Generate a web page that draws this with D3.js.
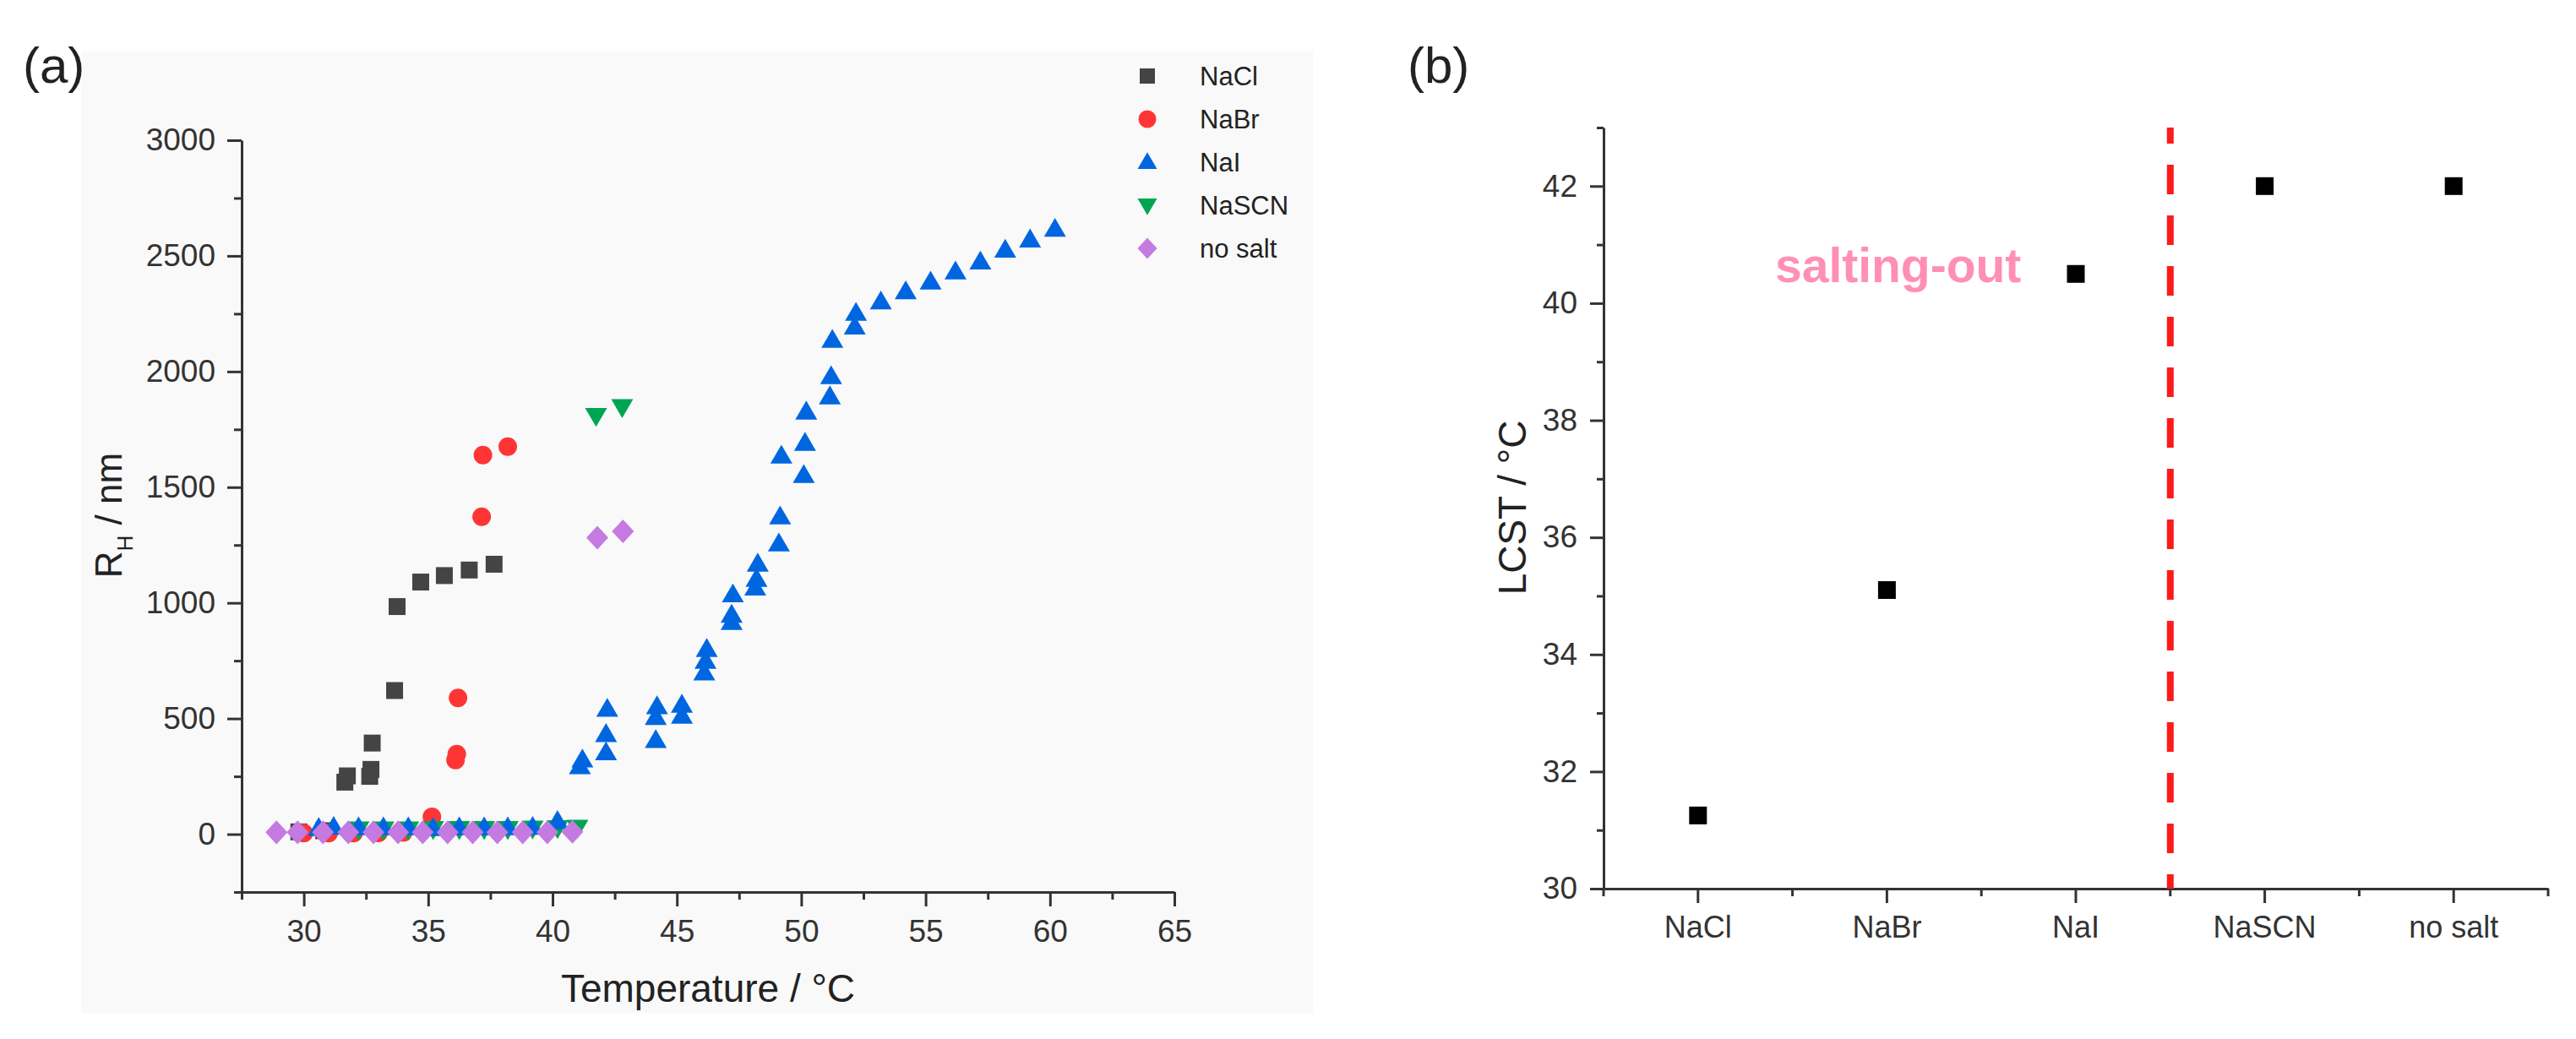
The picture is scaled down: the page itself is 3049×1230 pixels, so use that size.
<!DOCTYPE html>
<html>
<head>
<meta charset="utf-8">
<script src="https://cdn.jsdelivr.net/npm/d3@7"></script>
<style>
  body { margin: 0; background: #ffffff; }
</style>
</head>
<body>
<div id="chart"></div>
<script>

// ---- data, panel (a): hydrodynamic radius vs temperature ----
var salts = ["NaCl", "NaBr", "NaI", "NaSCN", "no salt"];
var saltColours = ["#444444", "#ff3535", "#0066e0", "#00a552", "#c47ae0"];

var naclPoints = [[29.8, 10], [30.8, 15], [31.65, 225], [31.75, 252], [32.65, 250],
	[32.7, 280], [32.75, 394], [33.65, 621], [33.75, 984], [34.7, 1090],
	[35.65, 1118], [36.65, 1142], [37.65, 1167]];

var nabrPoints = [[30.0, 5], [31.0, 5], [32.0, 5], [33.0, 6], [34.0, 8],
	[35.15, 75], [36.1, 321], [36.15, 346], [36.2, 589], [37.15, 1372],
	[37.2, 1639], [38.2, 1675]];

var naiPoints = [[30.6, 25], [31.2, 30], [32.2, 28], [33.2, 28], [34.2, 28],
	[35.2, 25], [36.25, 28], [37.25, 28], [38.2, 28], [39.2, 30], [40.2, 55],
	[41.1, 292], [41.2, 321], [42.15, 352], [42.15, 431], [42.2, 540],
	[44.15, 405], [44.15, 505], [44.2, 551], [45.2, 510], [45.2, 558],
	[46.1, 697], [46.15, 748], [46.2, 799], [47.2, 916], [47.2, 947],
	[47.25, 1035], [48.15, 1064], [48.2, 1102], [48.25, 1168], [49.1, 1255],
	[49.15, 1372], [49.2, 1635], [50.1, 1551], [50.15, 1690], [50.2, 1825],
	[51.15, 1891], [51.2, 1978], [51.25, 2135], [52.15, 2193], [52.2, 2252],
	[53.2, 2301], [54.2, 2345], [55.2, 2387], [56.2, 2431], [57.2, 2474],
	[58.2, 2525], [59.2, 2569], [60.2, 2615]];

var nascnPoints = [[32.2, 22], [33.2, 22], [34.2, 22], [35.2, 24], [36.25, 24],
	[37.25, 24], [38.2, 24], [39.2, 26], [40.2, 28], [41.0, 30],
	[41.75, 1810], [42.8, 1848]];

var noSaltPoints = [[28.9, 8], [29.75, 8], [30.77, 8], [31.79, 8], [32.8, 8],
	[33.79, 8], [34.78, 8], [35.78, 8], [36.79, 8], [37.78, 8], [38.8, 8],
	[39.79, 8], [40.8, 10], [41.8, 1282], [42.83, 1309]];

var tempTicks = [30, 35, 40, 45, 50, 55, 60, 65];
var tempMinorTicks = [27.5, 32.5, 37.5, 42.5, 47.5, 52.5, 57.5, 62.5];
var radiusTicks = [0, 500, 1000, 1500, 2000, 2500, 3000];
var radiusMinorTicks = [-250, 250, 750, 1250, 1750, 2250, 2750];

// ---- data, panel (b): LCST per salt ----
var lcstValues = [31.25, 35.1, 40.5, 42.0, 42.0];
var lcstTicks = [30, 32, 34, 36, 38, 40, 42];
var lcstMinorTicks = [31, 33, 35, 37, 39, 41, 43];


var FONT = "'Liberation Sans', Arial, Helvetica, sans-serif";
var AXIS = "#333333";

// marker shapes, size = width in px squared
var shapeSquare = { draw: function(ctx, s) { var r = Math.sqrt(s) / 2; ctx.rect(-r, -r, 2 * r, 2 * r); } };
var shapeCircle = { draw: function(ctx, s) { var r = Math.sqrt(s) / 2; ctx.moveTo(r, 0); ctx.arc(0, 0, r, 0, 2 * Math.PI); } };
var shapeTriUp = { draw: function(ctx, s) {
	var w = Math.sqrt(s), h = w * 0.86;
	ctx.moveTo(0, -h * 0.6); ctx.lineTo(w / 2, h * 0.4); ctx.lineTo(-w / 2, h * 0.4); ctx.closePath(); } };
var shapeTriDown = { draw: function(ctx, s) {
	var w = Math.sqrt(s), h = w * 0.86;
	ctx.moveTo(0, h * 0.6); ctx.lineTo(w / 2, -h * 0.4); ctx.lineTo(-w / 2, -h * 0.4); ctx.closePath(); } };
var shapeDiamond = { draw: function(ctx, s) {
	var w = Math.sqrt(s) / 2, h = w * 1.08;
	ctx.moveTo(0, -h); ctx.lineTo(w, 0); ctx.lineTo(0, h); ctx.lineTo(-w, 0); ctx.closePath(); } };

// order: legend order; draw: stacking order of the points
var series = [
	{ name: salts[0], points: naclPoints, shape: shapeSquare, size: 20, legendSize: 18, draw: 0 },
	{ name: salts[1], points: nabrPoints, shape: shapeCircle, size: 22, legendSize: 21, draw: 1 },
	{ name: salts[2], points: naiPoints, shape: shapeTriUp, size: 26, legendSize: 23, draw: 3 },
	{ name: salts[3], points: nascnPoints, shape: shapeTriDown, size: 26, legendSize: 23, draw: 2 },
	{ name: salts[4], points: noSaltPoints, shape: shapeDiamond, size: 26, legendSize: 23, draw: 4 }
];
series.forEach(function(s, i) { s.colour = saltColours[i]; });


function styleAxis(g, fontSize) {
	g.attr("font-family", FONT).attr("font-size", fontSize);
	g.select(".domain").attr("stroke", AXIS).attr("stroke-width", 3);
	g.selectAll(".tick line").attr("stroke", AXIS).attr("stroke-width", 3);
	g.selectAll(".tick text").attr("fill", "#333333");
}


var svg = d3.select("#chart").append("svg")
	.attr("width", 3049)
	.attr("height", 1230)
	.style("font-family", FONT);


// ================= panel (a) =================
svg.append("rect")
	.attr("x", 96).attr("y", 61)
	.attr("width", 1458).attr("height", 1138)
	.attr("fill", "#f9f9f9");

var xA = d3.scaleLinear().domain([27.5, 65]).range([286, 1390]);
var yA = d3.scaleLinear().domain([-250, 3000]).range([1056, 166]);

var gA = svg.append("g");

gA.append("g")
	.attr("transform", "translate(0,1056)")
	.call(d3.axisBottom(xA).tickValues(tempMinorTicks).tickSize(9).tickFormat(""))
	.call(function(g) { styleAxis(g, 37); g.select(".domain").remove(); });

gA.append("g")
	.attr("transform", "translate(0,1056)")
	.call(d3.axisBottom(xA).tickValues(tempTicks).tickSize(17).tickSizeOuter(0).tickPadding(16)
		.tickFormat(d3.format("d")))
	.call(function(g) { styleAxis(g, 37); });

gA.append("g")
	.attr("transform", "translate(286,0)")
	.call(d3.axisLeft(yA).tickValues(radiusMinorTicks).tickSize(9).tickFormat(""))
	.call(function(g) { styleAxis(g, 37); g.select(".domain").remove(); });

gA.append("g")
	.attr("transform", "translate(286,0)")
	.call(d3.axisLeft(yA).tickValues(radiusTicks).tickSize(17).tickSizeOuter(0).tickPadding(14)
		.tickFormat(d3.format("d")))
	.call(function(g) { styleAxis(g, 37); });

// points
series.slice().sort(function(a, b) { return a.draw - b.draw; }).forEach(function(s) {
	gA.append("g").selectAll("path")
		.data(s.points)
		.enter().append("path")
		.attr("transform", function(d) { return "translate(" + xA(d[0]) + "," + yA(d[1]) + ")"; })
		.attr("d", d3.symbol().type(s.shape).size(s.size * s.size))
		.attr("fill", s.colour);
});

// axis titles
gA.append("text")
	.attr("x", 838).attr("y", 1186)
	.attr("text-anchor", "middle")
	.attr("font-size", 46)
	.attr("fill", "#222222")
	.text("Temperature / °C");

var yTitle = gA.append("text")
	.attr("transform", "translate(144,610) rotate(-90)")
	.attr("text-anchor", "middle")
	.attr("font-size", 44)
	.attr("fill", "#222222");
yTitle.append("tspan").text("R");
yTitle.append("tspan").attr("font-size", 26).attr("dy", 13).text("H");
yTitle.append("tspan").attr("dy", -13).text(" / nm");

// legend
var legend = gA.append("g").selectAll("g")
	.data(series)
	.enter().append("g")
	.attr("transform", function(d, i) { return "translate(1358," + (90 + i * 51) + ")"; });

legend.append("path")
	.attr("d", function(d) { return d3.symbol().type(d.shape).size(d.legendSize * d.legendSize)(); })
	.attr("fill", function(d) { return d.colour; });

legend.append("text")
	.attr("x", 62).attr("y", 11)
	.attr("font-size", 31)
	.attr("fill", "#222222")
	.text(function(d) { return d.name; });

gA.append("text")
	.attr("x", 27).attr("y", 98)
	.attr("font-size", 60)
	.attr("fill", "#222222")
	.text("(a)");


// ================= panel (b) =================
var xB = d3.scaleBand().domain(salts).range([1898, 3016]).paddingInner(0).paddingOuter(0);
var yB = d3.scaleLinear().domain([30, 43]).range([1052, 151]);
var bandEdges = salts.map(function(c) { return xB(c); }).concat([3016]);

var gB = svg.append("g");

// minor ticks on the band edges
gB.append("g")
	.selectAll("line")
	.data(bandEdges)
	.enter().append("line")
	.attr("x1", function(d) { return d; })
	.attr("x2", function(d) { return d; })
	.attr("y1", 1052).attr("y2", 1061)
	.attr("stroke", AXIS).attr("stroke-width", 3);

gB.append("g")
	.attr("transform", "translate(0,1052)")
	.call(d3.axisBottom(xB).tickSize(17).tickSizeOuter(0).tickPadding(15))
	.call(function(g) { styleAxis(g, 36); });

gB.append("g")
	.attr("transform", "translate(1898,0)")
	.call(d3.axisLeft(yB).tickValues(lcstMinorTicks).tickSize(8).tickFormat(""))
	.call(function(g) { styleAxis(g, 37); g.select(".domain").remove(); });

gB.append("g")
	.attr("transform", "translate(1898,0)")
	.call(d3.axisLeft(yB).tickValues(lcstTicks).tickSize(16).tickSizeOuter(0).tickPadding(15))
	.call(function(g) { styleAxis(g, 37); });

// separator between salting-out and the rest
var sepX = xB(salts[3]);
gB.append("line")
	.attr("x1", sepX).attr("x2", sepX)
	.attr("y1", yB(43)).attr("y2", yB(30))
	.attr("stroke", "#ff1a1a")
	.attr("stroke-width", 8)
	.attr("stroke-dasharray", "35,25")
	.attr("stroke-dashoffset", 16);

gB.append("g").selectAll("path")
	.data(lcstValues)
	.enter().append("path")
	.attr("transform", function(d, i) { return "translate(" + (xB(salts[i]) + xB.bandwidth() / 2) + "," + yB(d) + ")"; })
	.attr("d", d3.symbol().type(shapeSquare).size(21 * 21))
	.attr("fill", "#000000");

gB.append("text")
	.attr("x", 2101).attr("y", 334)
	.attr("font-size", 57)
	.attr("font-weight", "bold")
	.attr("fill", "#ff8fb6")
	.text("salting-out");

gB.append("text")
	.attr("transform", "translate(1806,601) rotate(-90)")
	.attr("text-anchor", "middle")
	.attr("font-size", 46)
	.attr("fill", "#222222")
	.text("LCST / °C");

gB.append("text")
	.attr("x", 1666).attr("y", 98)
	.attr("font-size", 60)
	.attr("fill", "#222222")
	.text("(b)");

</script>
</body>
</html>
